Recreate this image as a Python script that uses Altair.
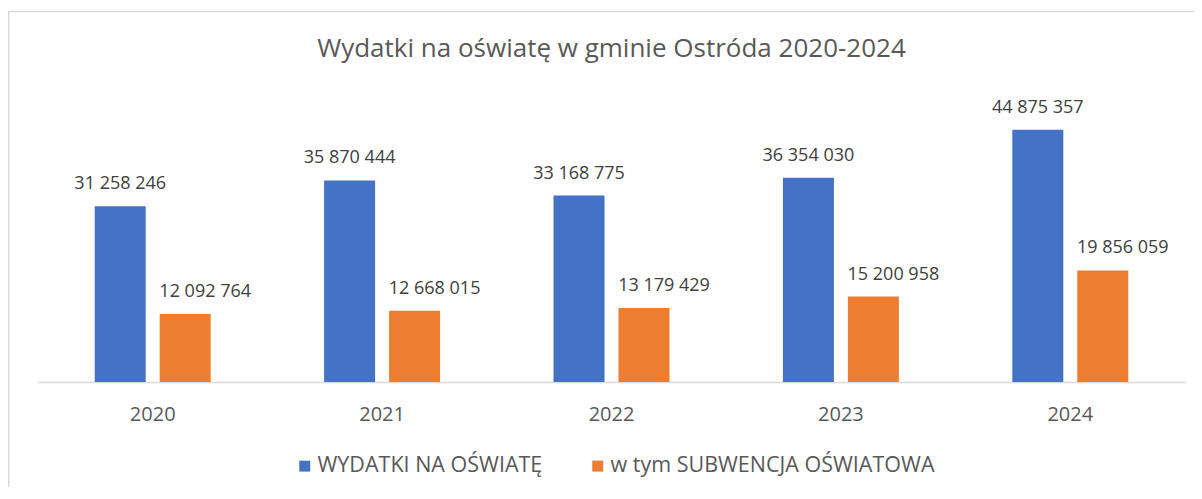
import altair as alt
import pandas as pd

years = ["2020", "2021", "2022", "2023", "2024"]
series = ["WYDATKI NA OŚWIATĘ", "w tym SUBWENCJA OŚWIATOWA"]
wydatki = [31258246, 35870444, 33168775, 36354030, 44875357]
subwencja = [12092764, 12668015, 13179429, 15200958, 19856059]
title = "Wydatki na oświatę w gminie Ostróda 2020-2024"

rows = []
for i, y in enumerate(years):
    for s, vals in zip(series, [wydatki, subwencja]):
        v = vals[i]
        rows.append({"year": y, "series": s, "value": v,
                     "label": f"{v:,}".replace(",", " ")})
df = pd.DataFrame(rows)

FONT = "Open Sans"
BLUE = "#4472C4"
ORANGE = "#ED7D31"

x_enc = alt.X("year:N", sort=years, title=None,
              scale=alt.Scale(paddingInner=0, paddingOuter=0),
              axis=alt.Axis(labelAngle=0, ticks=False, domainColor="#d9d9d9",
                            domainWidth=1.5, labelFont=FONT, labelFontSize=20,
                            labelColor="#595959", labelPadding=22, grid=False))
xo_enc = alt.XOffset("series:N", sort=series,
                     scale=alt.Scale(paddingInner=0.215, paddingOuter=0.873))
y_enc = alt.Y("value:Q", axis=None, scale=alt.Scale(domain=[0, 50000000]))

base = alt.Chart(df).encode(x=x_enc, xOffset=xo_enc, y=y_enc)

bars = base.mark_bar().encode(
    color=alt.Color("series:N", sort=series,
                    scale=alt.Scale(domain=series, range=[BLUE, ORANGE]),
                    legend=alt.Legend(title=None, orient="none", direction="horizontal",
                                      legendX=256, legendY=354, symbolType="square",
                                      symbolSize=120, symbolStrokeWidth=0,
                                      labelFont=FONT, labelFontSize=21.5,
                                      labelColor="#595959", labelOffset=2,
                                      columnPadding=44, labelLimit=500))
)

lab_blue = base.transform_filter(alt.datum.series == series[0]).mark_text(
    font=FONT, fontSize=18, color="#404040", baseline="alphabetic", dy=-17
).encode(text="label:N")
lab_orange = base.transform_filter(alt.datum.series == series[1]).mark_text(
    font=FONT, fontSize=18, color="#404040", baseline="alphabetic", dy=-17, dx=20
).encode(text="label:N")

frame = alt.Chart(df).mark_rect(fill=None, stroke="#d9d9d9", strokeWidth=1.5).encode(
    x=alt.value(-29.3), x2=alt.value(1200), y=alt.value(-89.6), y2=alt.value(420)
).transform_filter(alt.datum.year == "2020").transform_filter(alt.datum.series == series[0])

chart = alt.layer(frame, bars, lab_blue, lab_orange).properties(
    width=1147, height=281,
    title=alt.TitleParams(title, font=FONT, fontSize=26, fontWeight="normal",
                          color="#595959", anchor="middle", baseline="alphabetic",
                          offset=-72),
    autosize=alt.AutoSizeParams(type="none"),
    padding={"left": 30, "top": 93, "right": 9, "bottom": 105},
).configure_view(stroke=None)

chart.save("out.html", embed_options={"renderer": "svg", "actions": False})
